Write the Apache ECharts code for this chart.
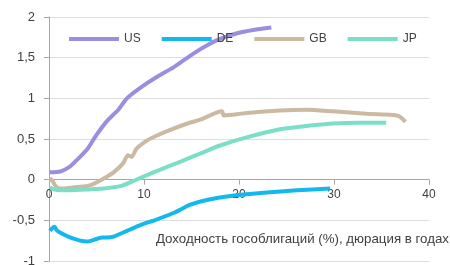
<!DOCTYPE html>
<html>
<head>
<meta charset="utf-8">
<script src="https://cdn.jsdelivr.net/npm/echarts@6/dist/echarts.min.js"></script>
<style>
html,body{margin:0;padding:0;background:#fff;}
#c{width:450px;height:265px;}
</style>
</head>
<body>
<div id="c"></div>
<script>
var seriesNames = ['US', 'DE', 'GB', 'JP'];
var xTicks = [0, 10, 20, 30, 40];
var yTicks = [-1, -0.5, 0, 0.5, 1, 1.5, 2];
var axisTitle = 'Доходность гособлигаций (%), дюрация в годах';

var usX = [0.1, 1.2, 2.2, 3.0, 4.0, 5.0, 6.1, 7.3, 8.2, 9.6, 11.3, 13.1, 15.2, 16.6, 18.0, 19.8, 21.5, 23.4];
var usY = [0.09, 0.1, 0.16, 0.25, 0.37, 0.55, 0.72, 0.86, 1.0, 1.13, 1.26, 1.38, 1.55, 1.65, 1.73, 1.8, 1.84, 1.87];

var deX = [0.1, 0.3, 0.6, 0.8, 1.3, 2.2, 3.3, 4.0, 5.0, 5.6, 6.1, 6.8, 7.8, 8.6, 9.6, 11.3, 13.1, 13.8, 14.8, 16.6, 19.1, 22.6, 26.1, 29.6];
var deY = [-0.63, -0.6, -0.58, -0.62, -0.66, -0.71, -0.75, -0.76, -0.73, -0.71, -0.71, -0.7, -0.65, -0.61, -0.56, -0.49, -0.41, -0.37, -0.31, -0.25, -0.2, -0.16, -0.13, -0.11];

var gbX = [0.1, 0.4, 0.7, 1.2, 2.9, 4.3, 5.7, 6.8, 7.8, 8.3, 8.7, 9.2, 10.3, 11.3, 12.7, 14.8, 16.0, 18.2, 18.4, 20.8, 24.3, 27.1, 29.9, 33.4, 36.6, 37.1, 37.5];
var gbY = [0.02, -0.02, -0.08, -0.11, -0.09, -0.07, 0.01, 0.09, 0.2, 0.3, 0.28, 0.38, 0.48, 0.54, 0.61, 0.7, 0.74, 0.84, 0.79, 0.82, 0.85, 0.86, 0.84, 0.81, 0.79, 0.76, 0.71];

var jpX = [0.1, 0.5, 1.2, 2.2, 4.3, 5.7, 7.5, 9.0, 11.0, 12.7, 13.8, 15.9, 18.0, 20.8, 24.3, 26.4, 27.1, 29.9, 32.5, 35.5];
var jpY = [-0.09, -0.12, -0.13, -0.13, -0.12, -0.11, -0.08, -0.01, 0.09, 0.17, 0.22, 0.32, 0.42, 0.52, 0.62, 0.65, 0.66, 0.69, 0.7, 0.7];

var colors = ['#9A8EE0', '#12B8EE', '#CBB9A2', '#7ADFC6'];

function pairs(xs, ys) { return xs.map(function (x, i) { return [x, ys[i]]; }); }
var allData = [pairs(usX, usY), pairs(deX, deY), pairs(gbX, gbY), pairs(jpX, jpY)];

var gridTop = 17, gridBottom = 4, H = 265;
var yMin = yTicks[0], yMax = yTicks[yTicks.length - 1];
var plotH = H - gridTop - gridBottom;
var zeroOffset = -plotH * (0 - yMin) / (yMax - yMin);

var chart = echarts.init(document.getElementById('c'), null, {renderer: 'canvas'});
var font = 'Liberation Sans, Arial, sans-serif';
chart.setOption({
  animation: false,
  color: colors,
  textStyle: {fontFamily: font},
  grid: {left: 49, right: 21, top: gridTop, bottom: gridBottom, containLabel: false, outerBoundsMode: 'none'},
  legend: {
    data: seriesNames,
    left: 69, top: 33, padding: 0,
    icon: 'rect',
    itemWidth: 50, itemHeight: 4,
    itemGap: 21,
    textStyle: {fontSize: 12, color: '#404040', fontFamily: font}
  },
  xAxis: {
    type: 'value', min: xTicks[0], max: xTicks[xTicks.length - 1], interval: 10,
    position: 'bottom', offset: zeroOffset,
    axisLine: {onZero: false, lineStyle: {color: '#A6A6A6', width: 1}},
    axisTick: {show: true, length: 5, lineStyle: {color: '#A6A6A6'}},
    axisLabel: {fontSize: 12, color: '#404040', margin: 9, fontFamily: font},
    splitLine: {show: false}
  },
  yAxis: {
    type: 'value', min: yMin, max: yMax, interval: 0.5,
    axisLine: {show: true, lineStyle: {color: '#A6A6A6', width: 1}},
    axisTick: {show: true, length: 5, lineStyle: {color: '#A6A6A6'}},
    axisLabel: {fontSize: 13, color: '#404040', margin: 14, fontFamily: font,
      formatter: function (v) { return String(v).replace('.', ','); }},
    splitLine: {show: true, lineStyle: {color: '#DEDEDE', width: 1}}
  },
  graphic: [{
    type: 'text', right: 1, top: 233,
    style: {text: axisTitle, font: '13.3px ' + font, fill: '#404040'}
  }],
  series: seriesNames.map(function (n, i) {
    return {
      name: n, type: 'line', data: allData[i], showSymbol: false, symbol: 'none',
      smooth: 0.25, lineStyle: {width: 4, color: colors[i]}
    };
  })
});
</script>
</body>
</html>
